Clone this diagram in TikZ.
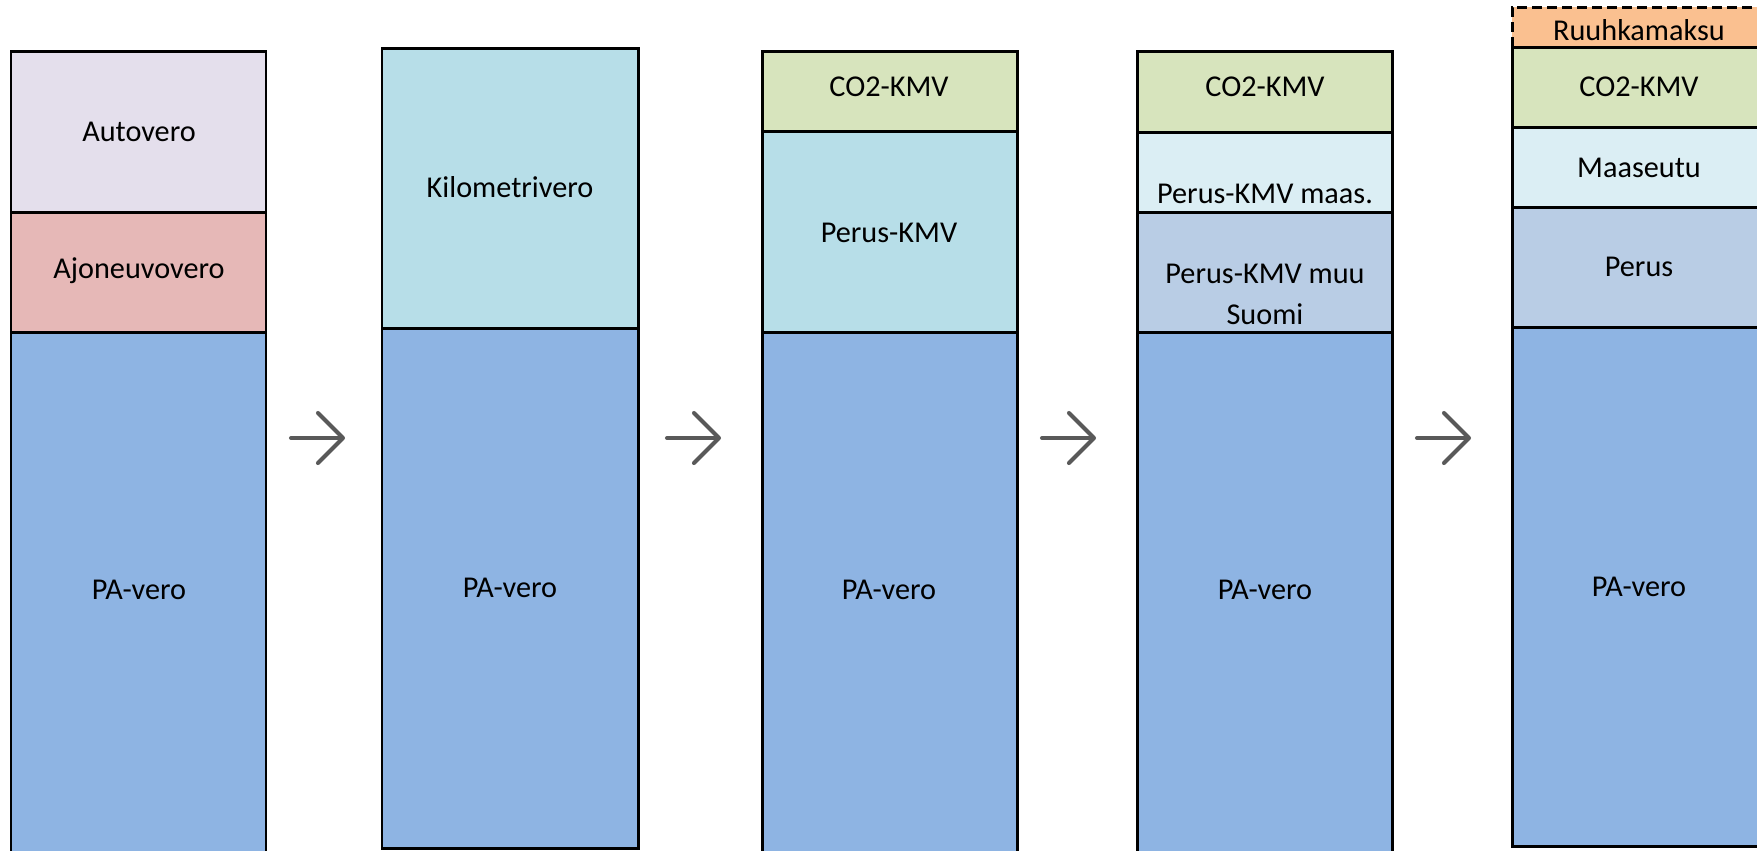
\documentclass[tikz,border=0pt]{standalone}
\usepackage{fontspec}
\setmainfont{Carlito}
\usetikzlibrary{arrows.meta}

\definecolor{autov}{HTML}{E4DFEC}
\definecolor{ajov}{HTML}{E6B8B7}
\definecolor{pav}{HTML}{8EB4E3}
\definecolor{kmv}{HTML}{B7DEE8}
\definecolor{cokmv}{HTML}{D7E4BD}
\definecolor{maas}{HTML}{DBEEF4}
\definecolor{perus}{HTML}{B9CDE5}
\definecolor{ruuhka}{HTML}{FAC090}
\definecolor{nuoli}{HTML}{595959}

\begin{document}
\begin{tikzpicture}[x=0.01cm,y=-0.01cm,line width=0.85pt]
\tikzstyle{every node}+=[inner sep=0pt,font=\fontsize{8.6}{11.6}\selectfont]
\tikzstyle{pil}=[nuoli,line width=1.15pt,line cap=round,-{Straight Barb[length=0.25cm,width=0.5cm,round]}]
\useasboundingbox (0,0) rectangle (1757,850);
\clip (0,0) rectangle (1757,850);

% column 1
\draw [black,fill=autov] (11,51) rectangle (266,212);
\draw [black,fill=ajov] (11,212) rectangle (266,332);
\draw [black,fill=pav] (11,332) rectangle (266,860);
\draw (139,132) node (auto) {Autovero};
\draw (139,271) node (ajo) {Ajoneuvovero};
\draw (139,590) node (pa1) {PA-vero};

% column 2
\draw [black,fill=kmv] (382,48) rectangle (638,328);
\draw [black,fill=pav] (382,328) rectangle (638,848);
\draw (510,187) node (km) {Kilometrivero};
\draw (510,588) node (pa2) {PA-vero};

% column 3
\draw [black,fill=cokmv] (762,51) rectangle (1017,131);
\draw [black,fill=kmv] (762,131) rectangle (1017,332);
\draw [black,fill=pav] (762,332) rectangle (1017,860);
\draw (889,87) node (co3) {CO2-KMV};
\draw (889,233) node (per3) {Perus-KMV};
\draw (889,590) node (pa3) {PA-vero};

% column 4
\draw [black,fill=cokmv] (1137,51) rectangle (1392,132);
\draw [black,fill=maas] (1137,132) rectangle (1392,212);
\draw [black,fill=perus] (1137,212) rectangle (1392,332);
\draw [black,fill=pav] (1137,332) rectangle (1392,860);
\draw (1265,87) node (co4) {CO2-KMV};
\draw (1265,194) node (maas4) {Perus-KMV maas.};
\draw (1265,294) node [align=center] (muu4) {Perus-KMV muu\\Suomi};
\draw (1265,590) node (pa4) {PA-vero};

% column 5
\fill [ruuhka] (1512,7) rectangle (1767,47);
\draw [black,dash pattern=on 0.1cm off 0.05cm] (1512,47) -- (1512,7) -- (1767,7);
\draw [black,fill=cokmv] (1512,47) rectangle (1767,127);
\draw [black,fill=maas] (1512,127) rectangle (1767,207);
\draw [black,fill=perus] (1512,207) rectangle (1767,327);
\draw [black,fill=pav] (1512,327) rectangle (1767,846);
\draw (1639,30) node (ruuhka5) {Ruuhkamaksu};
\draw (1639,87) node (co5) {CO2-KMV};
\draw (1639,168) node (maas5) {Maaseutu};
\draw (1639,267) node (per5) {Perus};
\draw (1639,587) node (pa5) {PA-vero};

% arrows
\coordinate (n1a) at (291,438);
\coordinate (n1b) at (345,438);
\coordinate (n2a) at (667,438);
\coordinate (n2b) at (721,438);
\coordinate (n3a) at (1042,438);
\coordinate (n3b) at (1096,438);
\coordinate (n4a) at (1417,438);
\coordinate (n4b) at (1471,438);
\draw [pil] (n1a) -- (n1b);
\draw [pil] (n2a) -- (n2b);
\draw [pil] (n3a) -- (n3b);
\draw [pil] (n4a) -- (n4b);
\end{tikzpicture}
\end{document}
